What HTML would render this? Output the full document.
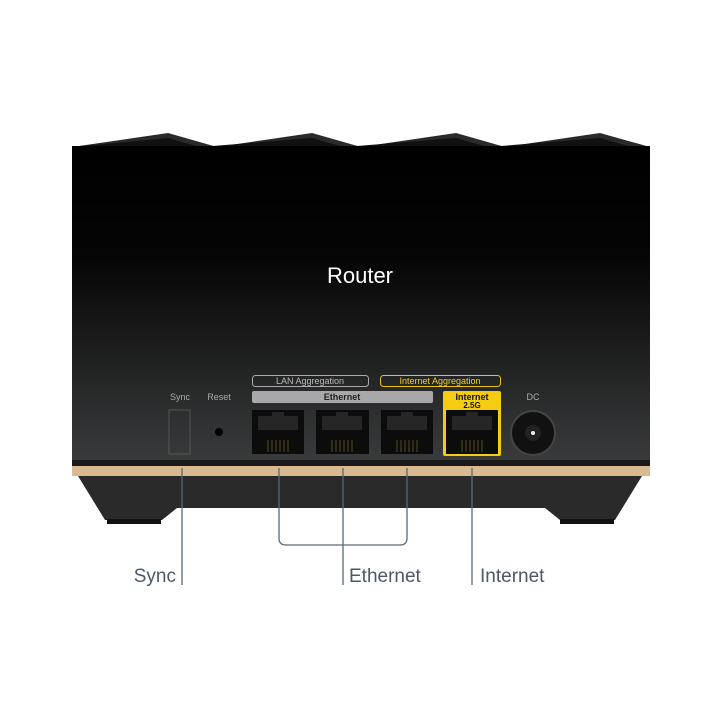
<!DOCTYPE html><html><head><style>
body{margin:0;background:#fff;width:720px;height:720px;overflow:hidden;font-family:"Liberation Sans",sans-serif}
</style></head><body>
<svg width="720" height="720" viewBox="0 0 720 720" xmlns="http://www.w3.org/2000/svg">
<defs><linearGradient id="g" x1="0" y1="0" x2="0" y2="1"><stop offset="0" stop-color="#000"/><stop offset="0.35" stop-color="#050505"/><stop offset="1" stop-color="#3a3b3c"/></linearGradient></defs>
<polygon points="72,147 168,133 217,147 312,133 361,147 456,133 505,147 600,133 650,147" fill="#2a2a2a"/>
<polygon points="72,147 168,138 200,147 312,138 344,147 456,138 488,147 600,138 632,147" fill="#111"/>
<rect x="72" y="146" width="578" height="316" fill="url(#g)"/>
<rect x="72" y="460" width="578" height="6" fill="#1a1a1a"/>
<rect x="72" y="466" width="578" height="10" fill="#d8b992"/>
<polygon points="78,476 642,476 615,520 560,520 545,508 177,508 162,520 105,520" fill="#2a2a2a"/>
<rect x="107" y="519" width="54" height="5" fill="#111"/>
<rect x="560" y="519" width="54" height="5" fill="#111"/>
<text x="360" y="283" fill="#fff" font-size="22" text-anchor="middle">Router</text>
<g font-size="9" fill="#aaa" text-anchor="middle"><text x="180" y="400">Sync</text><text x="219" y="400">Reset</text><text x="533" y="400">DC</text></g>
<rect x="169" y="410" width="21" height="44" fill="none" stroke="#555"/>
<circle cx="219" cy="432" r="4" fill="#000"/>
<circle cx="533" cy="433" r="22" fill="#111" stroke="#444" stroke-width="2"/><circle cx="533" cy="433" r="8" fill="#222"/><circle cx="533" cy="433" r="2" fill="#eee"/>
<rect x="252.5" y="375.5" width="116" height="11" rx="3" fill="none" stroke="#aaa"/>
<text x="310" y="384" font-size="9" fill="#bbb" text-anchor="middle">LAN Aggregation</text>
<rect x="380.5" y="375.5" width="120" height="11" rx="3" fill="none" stroke="#e6c21a"/>
<text x="440" y="384" font-size="9" fill="#f0d020" text-anchor="middle">Internet Aggregation</text>
<rect x="252" y="391" width="181" height="12" rx="2" fill="#a8a8aa"/>
<text x="342" y="400" font-size="9" fill="#222" text-anchor="middle" font-weight="bold">Ethernet</text>
<rect x="443" y="391" width="58" height="65" rx="2" fill="#f4cc12"/>
<text x="472" y="400" font-size="9" fill="#111" text-anchor="middle" font-weight="bold">Internet</text>
<text x="472" y="408" font-size="8" fill="#111" text-anchor="middle" font-weight="bold">2.5G</text>
<g fill="#0c0c0c">
<rect x="252" y="410" width="52" height="44"/><rect x="316" y="410" width="53" height="44"/><rect x="381" y="410" width="52" height="44"/><rect x="446" y="410" width="52" height="44"/></g>
<g fill="#262626"><path d="M258 416h14v-4h12v4h14v14h-40z"/><path d="M322 416h14v-4h12v4h14v14h-40z"/><path d="M387 416h14v-4h12v4h14v14h-40z"/><path d="M452 416h14v-4h12v4h14v14h-40z"/></g>
<g stroke="#5a4a20" stroke-width="1"><path d="M268 440v12M272 440v12M276 440v12M280 440v12M284 440v12M288 440v12M332 440v12M336 440v12M340 440v12M344 440v12M348 440v12M352 440v12M397 440v12M401 440v12M405 440v12M409 440v12M413 440v12M417 440v12M462 440v12M466 440v12M470 440v12M474 440v12M478 440v12M482 440v12"/></g>
<g stroke="#5a6878" stroke-width="1.3" fill="none">
<line x1="182" y1="468" x2="182" y2="585"/>
<path d="M279 468V538q0 7 7 7H400q7 0 7-7V468"/>
<line x1="343" y1="468" x2="343" y2="585"/>
<line x1="472" y1="468" x2="472" y2="585"/>
</g>
<g font-size="19" fill="#4a5868"><text x="176" y="582" text-anchor="end">Sync</text><text x="349" y="582">Ethernet</text><text x="480" y="582">Internet</text></g>
</svg>
</body></html>
